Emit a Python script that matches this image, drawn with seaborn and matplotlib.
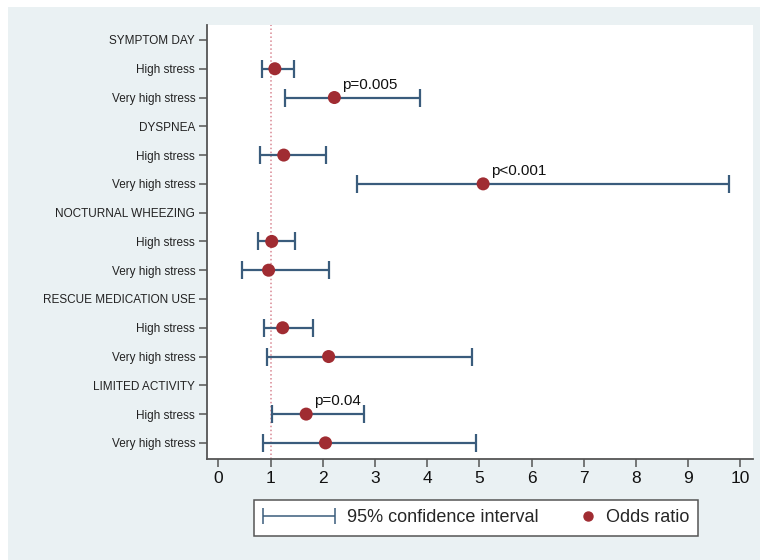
import numpy as np
import pandas as pd
import seaborn as sns
import matplotlib.pyplot as plt
from matplotlib.lines import Line2D
from matplotlib.patches import Rectangle
from matplotlib.container import ErrorbarContainer
from matplotlib.legend_handler import HandlerErrorbar, HandlerLine2D

# Row labels, top to bottom (group headers have no estimate)
labels = ["SYMPTOM DAY", "High stress", "Very high stress",
          "DYSPNEA", "High stress", "Very high stress",
          "NOCTURNAL WHEEZING", "High stress", "Very high stress",
          "RESCUE MEDICATION USE", "High stress", "Very high stress",
          "LIMITED ACTIVITY", "High stress", "Very high stress"]

# Odds ratios and 95% CI (NaN = header row)
odds = [np.nan, 1.08, 2.22, np.nan, 1.25, 5.07, np.nan, 1.02, 0.96,
        np.nan, 1.23, 2.11, np.nan, 1.68, 2.05]
ci_low = [np.nan, 0.83, 1.28, np.nan, 0.79, 2.66, np.nan, 0.75, 0.46,
          np.nan, 0.87, 0.93, np.nan, 1.03, 0.86]
ci_high = [np.nan, 1.44, 3.86, np.nan, 2.06, 9.78, np.nan, 1.46, 2.11,
           np.nan, 1.81, 4.85, np.nan, 2.78, 4.93]

# p-value notes: row index -> text
p_notes = {2: "p=0.005", 5: "p<0.001", 13: "p=0.04"}

x_ticks = list(range(0, 11))

df = pd.DataFrame({"label": labels, "OR": odds, "lo": ci_low, "hi": ci_high})
df["row"] = np.arange(len(df))
est = df.dropna()

sns.set_theme(style="white")
plt.rcParams["font.family"] = ["Liberation Sans", "DejaVu Sans"]

bg = "#EAF1F3"
ci_col = "#3A5C7C"
dot_col = "#A02C32"

fig = plt.figure(figsize=(7.6, 5.6), dpi=100, facecolor="white")
fig.patches.append(Rectangle((8 / 760, 0), 1, 1 - 7 / 560, transform=fig.transFigure,
                             facecolor=bg, edgecolor="none", zorder=-10))
ax = fig.add_axes([207 / 760, 1 - 459 / 560, (753 - 207) / 760, (459 - 25) / 560])
ax.set_facecolor("white")

ax.axvline(1, color="#D98893", linestyle=(0, (1, 1.6)), linewidth=1.1, zorder=1)

ax.errorbar(est["OR"], est["row"],
            xerr=[est["OR"] - est["lo"], est["hi"] - est["OR"]],
            fmt="none", ecolor=ci_col, elinewidth=1.6, capsize=6.5,
            capthick=1.6, zorder=2)
sns.scatterplot(data=est, x="OR", y="row", color=dot_col, s=88,
                edgecolor="none", zorder=3, ax=ax, legend=False)

# thinner proxy for the legend key (draws nothing on the axes)
ci_key = ax.errorbar([np.nan], [np.nan], xerr=[[np.nan], [np.nan]], fmt="none",
                     ecolor=ci_col, elinewidth=1.1, capsize=5.5, capthick=1.1)

for r, txt in p_notes.items():
    ax.text(df.loc[r, "OR"] + 0.15, r - 0.45, txt, fontsize=11,
            ha="left", va="center", color="#111111")

ax.set_xlim(-0.22, 10.24)
ax.set_ylim(len(labels) - 1 + 0.56, -0.52)
ax.set_xticks(x_ticks)
ax.set_xticklabels([str(v) for v in x_ticks], fontsize=12.5)
ax.set_yticks(df["row"])
ax.set_yticklabels(labels, fontsize=8.5)
ax.set_xlabel("")
ax.set_ylabel("")

for side in ["top", "right"]:
    ax.spines[side].set_visible(False)
for side in ["left", "bottom"]:
    ax.spines[side].set_color("#555555")
    ax.spines[side].set_linewidth(1.3)
ax.tick_params(axis="both", which="major", direction="out", length=5.5,
               width=1.1, color="#555555", pad=3, left=True, bottom=True)
ax.tick_params(axis="y", labelcolor="#222222")
ax.tick_params(axis="x", labelcolor="#111111")


class RightMarker(HandlerLine2D):
    def get_xdata(self, legend, xdescent, ydescent, width, height, fontsize):
        xm = -xdescent + width - 0.4 * fontsize
        return np.array([xm, xm]), np.array([xm])


or_handle = Line2D([], [], marker="o", linestyle="none", color=dot_col,
                   markersize=6.5)
leg = fig.legend([ci_key, or_handle], ["95% confidence interval", "Odds ratio"],
                 loc="center", bbox_to_anchor=(476 / 760, 1 - 518 / 560),
                 ncol=2, fontsize=13, frameon=True, fancybox=False,
                 edgecolor="#555555", facecolor="white", framealpha=1,
                 handlelength=4.05, handletextpad=0.6, columnspacing=-0.9,
                 borderpad=0.5,
                 handler_map={ErrorbarContainer: HandlerErrorbar(xerr_size=2.0),
                              Line2D: RightMarker()})
leg.get_frame().set_linewidth(1.1)

fig.savefig("out.png", dpi=100, facecolor=fig.get_facecolor())
